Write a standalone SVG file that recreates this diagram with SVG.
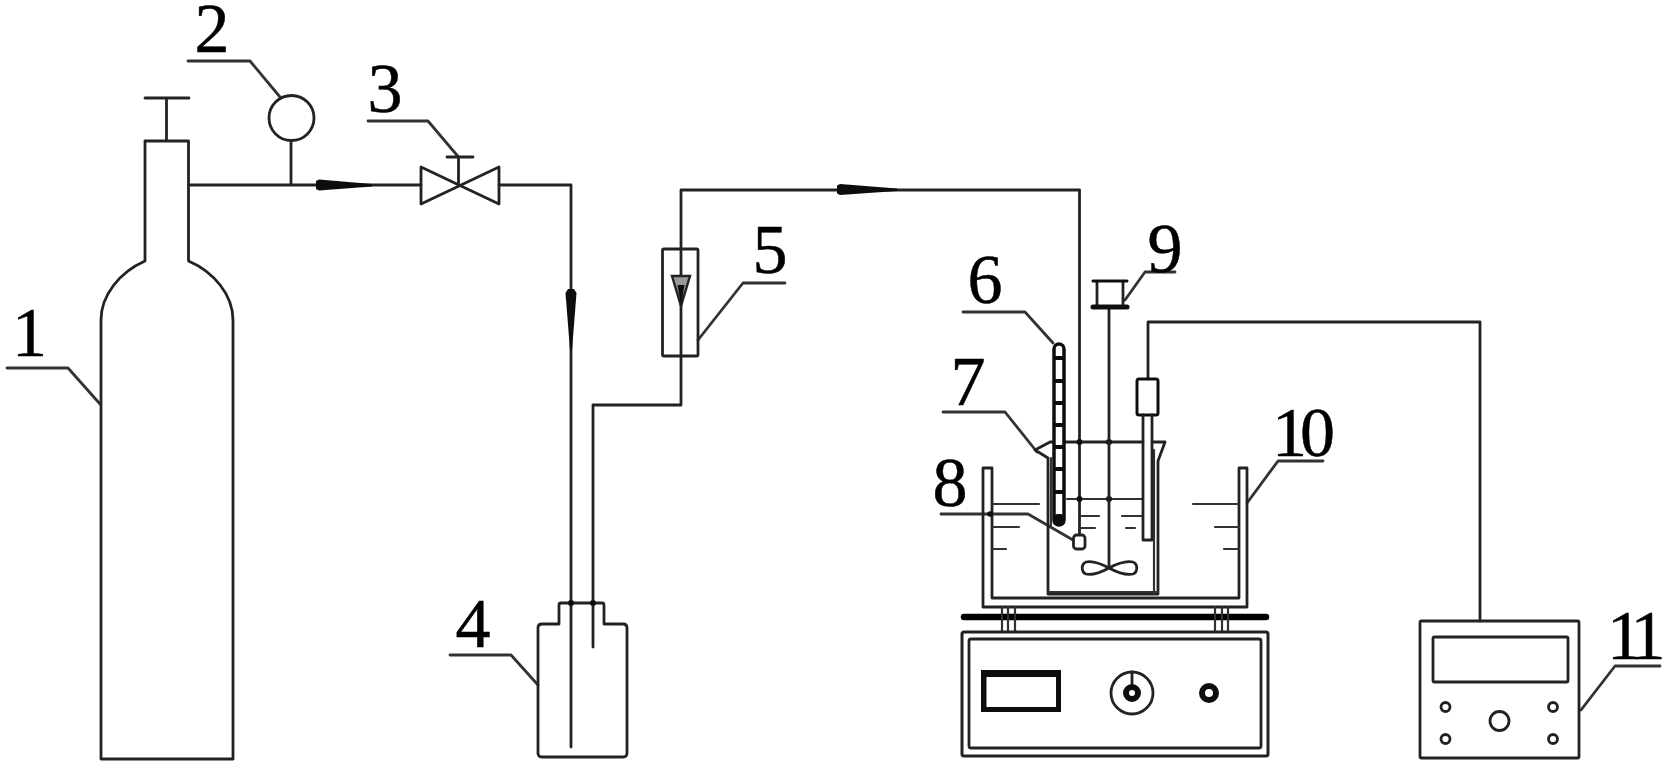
<svg xmlns="http://www.w3.org/2000/svg" width="1668" height="772" viewBox="0 0 1668 772">
<style>
.l{fill:none;stroke:#222;stroke-width:2.800;stroke-linejoin:round;stroke-linecap:round}
.t{fill:none;stroke:#333;stroke-width:2.200;stroke-linejoin:round;stroke-linecap:round}
.g{fill:none;stroke:#333;stroke-width:2.800;stroke-linejoin:round;stroke-linecap:round}
.k{fill:#111;stroke:none}
.n{font-family:"Liberation Serif","Times New Roman",serif;font-size:70px;fill:#000;stroke:#000;stroke-width:.5;text-anchor:middle}
.a{text-anchor:start}
</style>
<defs><filter id="soft" x="0" y="0" width="1668" height="772" filterUnits="userSpaceOnUse"><feGaussianBlur stdDeviation="0.55"/></filter></defs>
<rect width="1668" height="772" fill="#fff"/>
<g filter="url(#soft)">
<g id="connectors">
<path class="l" d="M189 185H421M291 185V141M499 185H571V747"/>
<path class="l" d="M593 647V405H681V190H1079.500V540"/>
<path class="l" d="M1148 379V322H1480V621"/>
<path class="k" d="M316 181L319 179.500L372 184V186.500L319 190.500L316 189Z"/>
<path class="k" d="M565.500 293L568 289H574L576.500 293L572 350H570Z"/>
<path class="k" d="M837 185.500L840 184L897 188.500V191L840 195L837 193.500Z"/>
</g>
<g id="leaders">
<path class="g" d="M7 368H68L100 404"/>
<path class="g" d="M188 61H250L280 97"/>
<path class="g" d="M368 121H428L458.500 157"/>
<path class="g" d="M450 655H511L538 685"/>
<path class="g" d="M785 283H743L698 340"/>
<path class="g" d="M963 312H1025L1053 343"/>
<path class="g" d="M943 412H1005L1037 452"/>
<path class="g" d="M941 514H1028L1073 540"/>
<path class="g" d="M1175 272H1145L1125 300"/>
<path class="g" d="M1323 461H1278L1247 503"/>
<path class="g" d="M1660 666H1615L1581 710"/>
</g>
<g id="n1">
<path class="l" d="M145 98H189M166.500 98V141M101 759V320C101 295 120 272 145 261V141H188.500V261C214 272 233 295 233 320V759Z"/>
<text class="n" x="29.500" y="356">1</text>
</g>
<g id="n2">
<circle class="l" cx="291.500" cy="118" r="22.500"/>
<text class="n" x="212" y="52">2</text>
</g>
<g id="n3">
<path class="l" d="M421 167V204L499 167V204ZM458.500 185V157M447 157H473"/>
<text class="n" x="385" y="112">3</text>
</g>
<g id="n4">
<path class="l" d="M561 603H602Q604 603 604 605V624H623Q627 624 627 628V753Q627 757 623 757H542Q538 757 538 753V628Q538 624 542 624H559V605Q559 603 561 603Z"/>
<circle class="k" cx="571" cy="603" r="3"/>
<circle class="k" cx="593" cy="603" r="3"/>
<text class="n" x="473" y="647">4</text>
</g>
<g id="n5">
<rect class="l" x="662.500" y="249" width="35.500" height="107" rx="1.500"/>
<path fill="#999" stroke="#222" stroke-width="2.400" d="M672 276H690L681 306Z"/>
<path class="k" d="M677.500 285H684.500L681 306Z"/>
<text class="n" x="770" y="273">5</text>
</g>
<g id="n7">
<path class="l" d="M1050 442H1143M1153 442H1165L1158 461V594H1048V458L1035 450L1050 442"/>
<path class="t" d="M1048 592H1158M1154 450V594M1051 458V525"/>
<path class="t" d="M1067 499H1143M1079 516H1099M1122 516H1143M1079 528H1095M1126 528H1135"/>
<g class="k"><circle cx="1079.500" cy="442" r="3"/><circle cx="1109" cy="442" r="3"/><circle cx="1079.500" cy="499" r="3"/><circle cx="1109" cy="499" r="3"/></g>
<text class="n" x="968" y="405">7</text>
</g>
<g id="n6">
<rect x="1054" y="344" width="10" height="181" rx="5" fill="#fff" stroke="#111" stroke-width="3.500"/>
<path stroke="#111" stroke-width="4" d="M1054 358H1064M1054 381H1064M1054 403H1064M1054 425H1064M1054 447H1064M1054 469H1064M1054 492H1064"/>
<rect class="k" x="1053" y="514" width="12" height="12" rx="5"/>
<text class="n" x="985" y="303">6</text>
</g>
<g id="n8">
<rect x="1073.500" y="535" width="11.500" height="14" rx="3" fill="#fff" stroke="#222" stroke-width="2.800"/>
<text class="n" x="950" y="506">8</text>
</g>
<g id="n9">
<path class="l" d="M1097 282V306M1123 282V306M1109 307V568"/>
<path stroke="#111" stroke-width="3" stroke-linecap="round" d="M1093 281H1127"/>
<path stroke="#111" stroke-width="5" stroke-linecap="round" d="M1093 307H1127"/>
<path class="l" d="M1109 568C1098 562 1090 561 1086 562C1081 564 1081 572 1086 574C1090 575 1098 574 1109 568C1120 562 1128 561 1133 562C1138 564 1138 572 1133 574C1128 575 1120 574 1109 568Z"/>
<text class="n" x="1165" y="272">9</text>
</g>
<g id="probe">
<rect x="1137" y="379" width="21" height="36" rx="2" fill="#fff" stroke="#111" stroke-width="3"/>
<path class="l" d="M1143 415V540H1152V415"/>
</g>
<g id="n10">
<path class="l" d="M983 607V468H992V598H1239V468H1247V607Z"/>
<path class="t" d="M992 504H1039M992 527H1019M992 549H1006M1193 504H1239M1215 527H1239M1224 549H1239"/>
<circle class="k" cx="990" cy="514" r="2.800"/>
<text class="n a" x="1272" y="456" letter-spacing="-7">10</text>
</g>
<g id="plate">
<path stroke="#000" stroke-width="6.500" stroke-linecap="round" d="M964 617H1266"/>
<path class="t" d="M1002 607V632M1008 607V632M1015 607V632M1215 607V632M1222 607V632M1228 607V632"/>
<rect x="962" y="632" width="306" height="124" rx="2" fill="#fff" stroke="#222" stroke-width="3"/>
<rect class="l" x="969" y="639" width="292" height="109" rx="2"/>
<path fill="#111" fill-rule="evenodd" d="M981 670H1061V712H981ZM986.500 677V707H1056V677Z"/>
<circle class="l" cx="1132" cy="693" r="21"/>
<path class="l" d="M1132 672V686"/>
<circle cx="1132" cy="693" r="6" fill="none" stroke="#111" stroke-width="6"/>
<circle cx="1209" cy="693" r="7" fill="none" stroke="#111" stroke-width="6"/>
</g>
<g id="n11">
<rect class="l" x="1420" y="621" width="159" height="137" rx="1.500"/>
<rect class="l" x="1433" y="637" width="135" height="45" rx="1.500"/>
<g class="l"><circle cx="1445.500" cy="707" r="4.500"/><circle cx="1553" cy="707" r="4.500"/><circle cx="1445.500" cy="739" r="4.500"/><circle cx="1553" cy="739" r="4.500"/><circle cx="1499.500" cy="721" r="9.500"/></g>
<text class="n a" x="1607" y="659" letter-spacing="-9">11</text>
</g>
</g>
</svg>
